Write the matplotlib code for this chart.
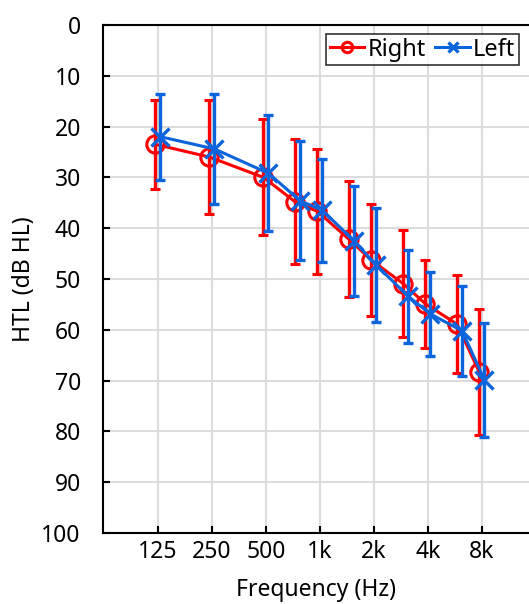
import matplotlib
matplotlib.use("Agg")
import matplotlib.pyplot as plt
import matplotlib.transforms as mtransforms

plt.rcParams['font.family'] = ['Noto Sans', 'DejaVu Sans']

freqs = [125, 250, 500, 750, 1000, 1500, 2000, 3000, 4000, 6000, 8000]
right_mean = [23.5, 26.0, 30.0, 34.8, 36.7, 42.2, 46.3, 50.9, 54.9, 58.9, 68.4]
right_sd = [8.7, 11.3, 11.4, 12.3, 12.3, 11.4, 11.0, 10.5, 8.6, 9.7, 12.4]
left_mean = [22.0, 24.4, 29.2, 34.6, 36.5, 42.5, 47.3, 53.4, 56.9, 60.2, 69.9]
left_sd = [8.5, 10.8, 11.4, 11.7, 10.1, 10.8, 11.2, 9.1, 8.2, 8.8, 11.3]

tick_freqs = [125, 250, 500, 1000, 2000, 4000, 8000]
tick_labels = ['125', '250', '500', '1k', '2k', '4k', '8k']

fig = plt.figure(figsize=(5.29, 6.04), dpi=100)
ax = fig.add_axes([103/529, 71/604, 1 - 103/529, 508/604])

red = '#ff0000'
blue = '#0a64dc'

off_r = mtransforms.offset_copy(ax.transData, fig=fig, x=-1.8, y=0, units='points')
off_l = mtransforms.offset_copy(ax.transData, fig=fig, x=1.8, y=0, units='points')

c_r = ax.errorbar(freqs, right_mean, yerr=right_sd, color=red, marker='o', ms=12.5,
                  mfc='none', mec=red, mew=2.2, lw=2.2, elinewidth=2.4, capsize=3.5,
                  capthick=2.2, transform=off_r, label='Right', zorder=3)
c_l = ax.errorbar(freqs, left_mean, yerr=left_sd, color=blue, marker='x', ms=12.5,
                  mew=2.4, lw=2.2, elinewidth=2.4, capsize=3.5, capthick=2.2,
                  transform=off_l, label='Left', zorder=4)

ax.set_xscale('log')
ax.set_xlim(125 * 2 ** (-55 / 54), 125 * 2 ** (371 / 54))
ax.set_xticks(tick_freqs)
ax.set_xticklabels(tick_labels)
ax.minorticks_off()
ax.set_ylim(100, 0)
ax.set_yticks(range(0, 101, 10))

ax.grid(True, color='#dcdcdc', lw=1.5)
ax.set_axisbelow(True)
ax.tick_params(direction='in', length=5, width=1.5, labelsize=16.5, colors='black')
ax.tick_params(axis='x', pad=5)
ax.tick_params(axis='y', pad=16)
for s in ['left', 'bottom', 'top']:
    ax.spines[s].set_linewidth(1.5)
    ax.spines[s].set_color('black')
ax.spines['right'].set_visible(False)

ax.set_xlabel('Frequency (Hz)', fontsize=16.5, labelpad=10)
ax.set_ylabel('HTL (dB HL)', fontsize=16.5, labelpad=4)

leg = ax.legend(handles=[c_r[0], c_l[0]], labels=['Right', 'Left'],
                loc='upper right', bbox_to_anchor=(519/529, 1 - 34/604),
                bbox_transform=fig.transFigure, fontsize=17, frameon=True,
                fancybox=False, handlelength=1.45, handletextpad=0.15,
                columnspacing=0.4, ncol=2, borderpad=0.15, borderaxespad=0,
                markerscale=0.6)
leg.get_frame().set_edgecolor('black')
leg.get_frame().set_linewidth(1.2)

fig.savefig('out.png', dpi=100)
